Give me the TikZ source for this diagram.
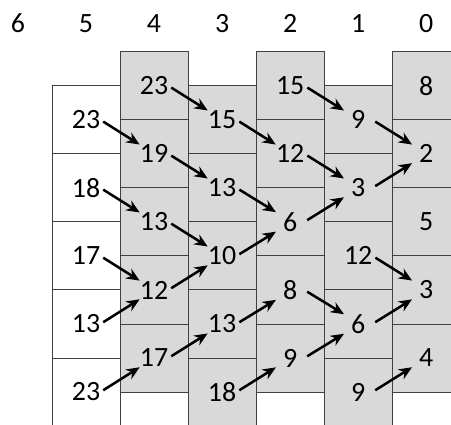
\documentclass[tikz,border=0pt]{standalone}
\usepackage{fontspec}
\setmainfont{Carlito}
\usetikzlibrary{arrows.meta}

\definecolor{cellgray}{RGB}{217,217,217}
\definecolor{cellline}{RGB}{64,64,64}

\begin{document}
\begin{tikzpicture}[
  cell/.style={draw=cellline, line width=0.7pt, fill=cellgray},
  wcell/.style={cell, fill=white},
  num/.style={font=\fontsize{21}{25}\selectfont, inner sep=0pt, minimum width=21pt, minimum height=13.5pt},
  arr/.style={-{Stealth[length=10pt, width=8.5pt]}, line width=1.9pt, shorten <=2.5pt}
]
\useasboundingbox (0,0) rectangle (11.93,11.22);
\clip (0,0) rectangle (11.93,11.22);

% Column indices
\foreach \c in {0,...,6}
  \node[num] (h\c) at ({0.475+1.8*(6-\c)}, 10.6) {\c};

% Stacks shifted up (columns 4, 2, 0)
\foreach \x in {3.175, 6.775, 10.375}
  \foreach \k in {0,...,4}
    \draw[cell] (\x, {0.85+1.8*\k}) rectangle ++(1.8, 1.8);

% Stacks shifted down (columns 5, 3, 1)
\foreach \k in {0,...,4} {
  \draw[wcell] (1.375, {-0.05+1.8*\k}) rectangle ++(1.8, 1.8);
  \draw[cell] (4.975, {-0.05+1.8*\k}) rectangle ++(1.8, 1.8);
  \draw[cell] (8.575, {-0.05+1.8*\k}) rectangle ++(1.8, 1.8);
}

% Values
\foreach \v [count=\r from 0] in {23,18,17,13,23}
  \node[num] (c5r\r) at (2.275, {8.05-1.8*\r}) {\v};
\foreach \v [count=\r from 0] in {23,19,13,12,17}
  \node[num] (c4r\r) at (4.075, {8.95-1.8*\r}) {\v};
\foreach \v [count=\r from 0] in {15,13,10,13,18}
  \node[num] (c3r\r) at (5.875, {8.05-1.8*\r}) {\v};
\foreach \v [count=\r from 0] in {15,12,6,8,9}
  \node[num] (c2r\r) at (7.675, {8.95-1.8*\r}) {\v};
\foreach \v [count=\r from 0] in {9,3,12,6,9}
  \node[num] (c1r\r) at (9.475, {8.05-1.8*\r}) {\v};
\foreach \v [count=\r from 0] in {8,2,5,3,4}
  \node[num] (c0r\r) at (11.275, {8.95-1.8*\r}) {\v};

% Steps down
\foreach \a/\b in {c5r0/c4r1, c5r1/c4r2, c5r2/c4r3, c4r0/c3r0, c4r1/c3r1, c4r2/c3r2,
                   c3r0/c2r1, c3r1/c2r2, c2r0/c1r0, c2r1/c1r1, c2r3/c1r3, c1r0/c0r1, c1r2/c0r3}
  \draw[arr] (\a.east) -- (\b.north west);

% Steps up
\foreach \a/\b in {c5r3/c4r3, c5r4/c4r4, c4r3/c3r2, c4r4/c3r3, c3r2/c2r2, c3r3/c2r3,
                   c3r4/c2r4, c2r2/c1r1, c2r4/c1r3, c1r1/c0r1, c1r3/c0r3, c1r4/c0r4}
  \draw[arr] (\a.east) -- (\b.south west);
\end{tikzpicture}
\end{document}
